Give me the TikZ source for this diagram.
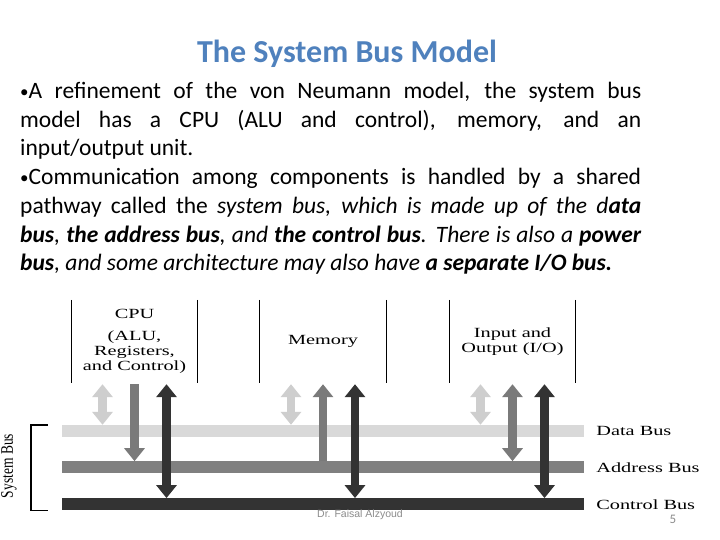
\documentclass[tikz,border=0pt]{standalone}
\usepackage{fontspec}
\usepackage{graphicx}
\usetikzlibrary{positioning, arrows.meta}
\setmainfont{Carlito}
\newfontfamily\figfont[FakeStretch=1.45]{Liberation Serif}
\newfontfamily\sidefont{Liberation Serif}
\newfontfamily\footfont{Liberation Sans}
\definecolor{titleblue}{RGB}{79, 129, 189}
\definecolor{datagray}{RGB}{217, 217, 217}
\definecolor{addrgray}{RGB}{128, 128, 128}
\definecolor{ctrlgray}{RGB}{51, 51, 51}
\definecolor{footgray}{RGB}{140, 140, 140}
\setlength{\parindent}{0pt}
\newcommand{\dotmark}{{\fontsize{17}{17}\selectfont\raisebox{1pt}{•}}}

\begin{document}
\begin{tikzpicture}[
    x=1pt, y=1pt,
    >={Triangle[length=13pt, width=20pt]},
    unit/.style={
      minimum width=126pt, minimum height=83pt, inner sep=0pt,
      align=center, font=\figfont\fontsize{14}{15}\selectfont
    },
    wall/.style={line width=1.2pt, black},
    bus/.style={minimum width=522pt, minimum height=12pt, inner sep=0pt},
    buslabel/.style={inner sep=0pt, anchor=west, font=\figfont\fontsize{14}{15}\selectfont},
    link/.style={line width=8.5pt},
    datalink/.style={draw=datagray!95!black},
    addrlink/.style={draw=addrgray!95!black},
    ctrllink/.style={draw=ctrlgray},
    bracket/.style={line width=1.5pt, black},
    footnote/.style={font=\footfont\fontsize{10.5}{12}\selectfont, text=footgray, inner sep=0pt},
]
    \fill[white] (0,0) rectangle (720,540);
    \useasboundingbox (0,0) rectangle (720,540);

    % Title and text
    \node[anchor=base, font=\bfseries\fontsize{32}{36}\selectfont, text=titleblue]
      (title) at (347,477) {The System Bus Model};
    \node[anchor=north west, inner sep=0pt, text width=621pt, align=justify,
      font=\fontsize{23.5}{28.7}\selectfont] (intro) at (20,458) {%
      \dotmark A refinement of the von Neumann model, the system bus\linebreak
      model has a CPU (ALU and control), memory, and an\linebreak
      input/output unit.\par
      \dotmark Communication among components is handled by a shared\linebreak
      pathway called the \textit{system bus, which is made up of the d\textbf{ata}\linebreak
      \textbf{bus}, \textbf{the address bus}, and \textbf{the control bus}. There is also a \textbf{power}\linebreak
      \textbf{bus}, and some architecture may also have \textbf{a separate I/O bus.}}};

    % Units
    \node[unit] (cpu) at (134.5,198.5) {CPU\\[7pt](ALU,\\Registers,\\and Control)};
    \node[unit] (mem) at (323,198.5) {Memory};
    \node[unit] (io) at (512.5,198.5) {Input and\\Output (I/O)};
    \foreach \u in {cpu, mem, io} {
      \draw[wall] (\u.north west) -- (\u.south west);
      \draw[wall] (\u.north east) -- (\u.south east);
    }

    % Buses
    \node[bus, fill=datagray] (data) at (323,109) {};
    \node[bus, fill=addrgray, below=24pt of data] (addr) {};
    \node[bus, fill=ctrlgray, below=24.5pt of addr] (ctrl) {};
    \node[buslabel, right=12pt of data] (datalabel) {Data Bus};
    \node[buslabel, right=12pt of addr] (addrlabel) {Address Bus};
    \node[buslabel, right=12pt of ctrl] (ctrllabel) {Control Bus};

    % Links
    \foreach \u in {cpu, mem, io} {
      \coordinate (\u-d) at ([xshift=-32pt, yshift=-1pt]\u.south);
      \coordinate (\u-a) at ([yshift=-1pt]\u.south);
      \coordinate (\u-c) at ([xshift=32pt, yshift=-1pt]\u.south);
      \draw[link, <->, datalink] (\u-d) -- (\u-d |- data.north);
      \draw[link, <->, ctrllink] (\u-c) -- (\u-c |- ctrl.north);
    }
    \draw[link, ->, addrlink] (cpu-a) -- (cpu-a |- addr.north);
    \draw[link, <-, addrlink] (mem-a) -- (mem-a |- addr.north);
    \draw[link, <->, addrlink] (io-a) -- (io-a |- addr.north);

    % System bus bracket
    \draw[bracket] ([xshift=-14pt]data.north west) -| ([xshift=-31pt]ctrl.south west)
      -- ([xshift=-14pt]ctrl.south west);
    \node[rotate=90, inner sep=0pt, font=\sidefont\fontsize{13.5}{15}\selectfont]
      (sysbus) at (9,74) {\scalebox{1}[1.3]{System Bus}};

    % Footer
    \node[footnote] (author) at (360,25) {Dr. Faisal Alzyoud};
    \node[footnote, font=\fontsize{13}{14}\selectfont] (page) at (673,21) {5};
\end{tikzpicture}
\end{document}
